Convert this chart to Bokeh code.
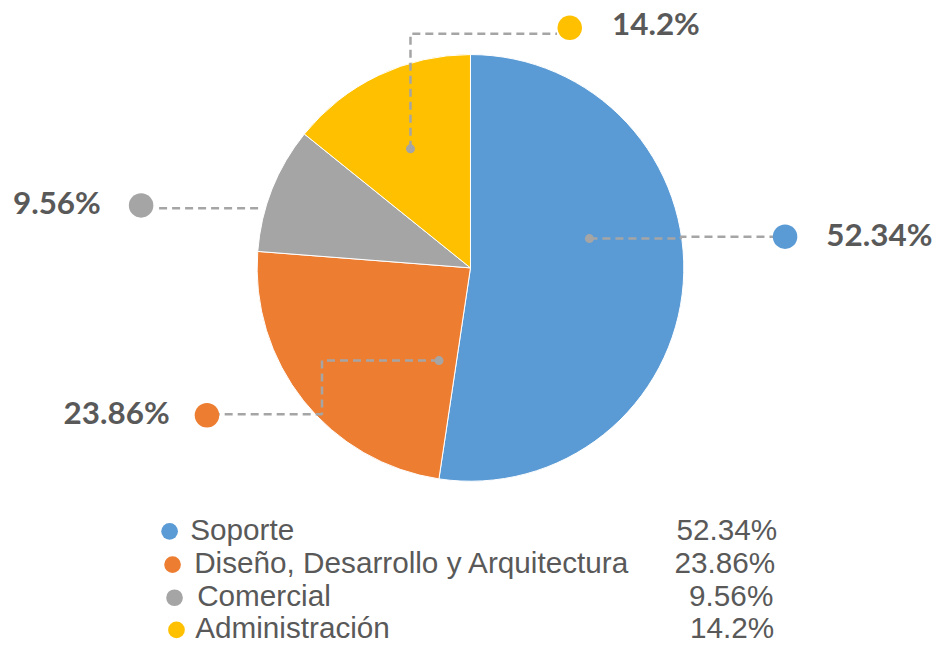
import numpy as np
from bokeh.plotting import figure
from bokeh.models import Range1d, ColumnDataSource
from bokeh.core.properties import value
from bokeh.embed import file_html
from bokeh.resources import INLINE

# ---- data ----
categories = ["Soporte", "Diseño, Desarrollo y Arquitectura", "Comercial", "Administración"]
values = [52.34, 23.86, 9.56, 14.2]
value_labels = ["52.34%", "23.86%", "9.56%", "14.2%"]
colors = ["#5B9BD5", "#ED7D31", "#A5A5A5", "#FFC000"]

# ---- layout: a 951x663 design canvas, y measured from the top ----
W, H = 935, 647
CW, CH = 951, 663


def Y(py):
    return CH - py


p = figure(width=W, height=H, output_backend="svg", toolbar_location=None,
           x_range=Range1d(0, CW), y_range=Range1d(0, CH),
           min_border=0, outline_line_color=None)
p.axis.visible = False
p.grid.visible = False
p.background_fill_color = "white"
p.border_fill_color = "white"

# pie
cx, cy, r = 478, 274, 217
vals = np.array(values, dtype=float)
frac = vals / vals.sum()
cum = np.concatenate([[0], np.cumsum(frac)])
start = np.pi / 2 - 2 * np.pi * cum[:-1]
end = np.pi / 2 - 2 * np.pi * cum[1:]
src = ColumnDataSource(dict(start=start, end=end, color=colors))
p.wedge(x=cx, y=Y(cy), radius=r, start_angle="start", end_angle="end",
        direction="clock", fill_color="color", line_color="white", line_width=1,
        source=src)

# leader lines
lead_col = "#A5A5A5"
leaders = [
    [(599, 244), (692, 244), (692, 242), (786, 242)],
    [(446, 369), (327, 369), (327, 424), (222, 424)],
    [(262, 213), (157, 213)],
    [(417, 152), (417, 34), (566, 34)],
]
for pts in leaders:
    p.line([a for a, b in pts], [Y(b) for a, b in pts], line_color=lead_col,
           line_width=2.5, line_dash="8 5")

inner = [(599, 244), (446, 369), (417, 152)]
p.scatter([a for a, b in inner], [Y(b) for a, b in inner], marker="circle",
          size=9, fill_color=lead_col, line_color=None)

big_dots = [(798, 242), (210, 425), (143, 210), (579, 28)]
p.scatter([a for a, b in big_dots], [Y(b) for a, b in big_dots], marker="circle",
          size=24.5, fill_color=colors, line_color=None)

# data labels
lab_pos = [(840, 239, "left"), (172, 421.5, "right"), (102, 206.5, "right"), (622, 23, "left")]
for (lx, ly, al), t in zip(lab_pos, value_labels):
    p.text(x=[lx], y=[Y(ly)], text=[t], text_font=value("Lato"), text_font_style="bold",
           text_font_size="31.4px", text_color="#595959", text_align=al,
           text_baseline="middle")

# legend
leg_dot_x = [172, 175, 177, 179]
leg_dot_y = [544, 578, 612, 645]
leg_text_x = [193, 197, 200, 198]
leg_pct_x = [790, 788, 786, 787]
leg_mid = [542, 576, 610, 643]
p.scatter(leg_dot_x, [Y(b) for b in leg_dot_y], marker="circle", size=16.7,
          fill_color=colors, line_color=None)
p.text(x=leg_text_x, y=[Y(b) for b in leg_mid], text=categories,
       text_font=value("Liberation Sans"), text_font_size="29.7px", text_color="#595959",
       text_align="left", text_baseline="middle")
p.text(x=leg_pct_x, y=[Y(b) for b in leg_mid], text=value_labels,
       text_font=value("Liberation Sans"), text_font_size="29.7px", text_color="#595959",
       text_align="right", text_baseline="middle")

open("out.html", "w").write(file_html(p, INLINE))
